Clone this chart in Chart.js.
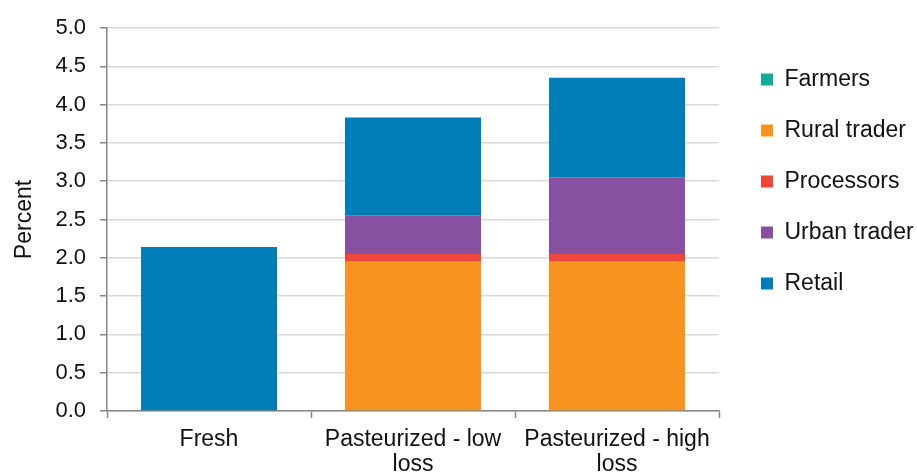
<!DOCTYPE html>
<html>
<head>
<meta charset="utf-8">
<script src="https://cdn.jsdelivr.net/npm/chart.js@4/dist/chart.umd.min.js"></script>
<style>
  html, body { margin: 0; padding: 0; background: #fff; }
  #wrap { position: relative; width: 917px; height: 475px; }
</style>
</head>
<body>
<div id="wrap"><canvas id="lossChart"></canvas></div>
<script>
/* Stacked loss shares by value-chain stage, percent. */
var categories = [["Fresh"], ["Pasteurized - low", "loss"], ["Pasteurized - high", "loss"]];
var farmers = [0, 0, 0];
var ruralTrader = [0, 1.95, 1.95];
var processors = [0, 0.1, 0.1];
var urbanTrader = [0, 0.5, 1.0];
var retail = [2.14, 1.28, 1.3];
var yTicks = [0, 0.5, 1, 1.5, 2, 2.5, 3, 3.5, 4, 4.5, 5];

var FONT = "'Liberation Sans', Arial, sans-serif";
var INK = "#111111";
var AXIS = "#868686";

function series(label, data, color) {
  return {
    label: label,
    data: data,
    backgroundColor: color,
    borderWidth: 0,
    barPercentage: 0.667,
    categoryPercentage: 1,
  };
}

window.addEventListener("DOMContentLoaded", function () {
  var canvas = document.getElementById("lossChart");
  if (typeof Chart === "undefined") return;

  new Chart(canvas, {
    type: "bar",
    data: {
      labels: categories,
      datasets: [
        series("Farmers", farmers, "#13aa97"),
        series("Rural trader", ruralTrader, "#f7941f"),
        series("Processors", processors, "#ef463a"),
        series("Urban trader", urbanTrader, "#8751a1"),
        series("Retail", retail, "#007cb7"),
      ],
    },
    options: {
      responsive: true,
      maintainAspectRatio: false,
      animation: false,
      layout: { padding: { top: 28, right: 0, bottom: 0, left: 0 } },
      plugins: {
        tooltip: { enabled: false },
        legend: {
          position: "right",
          align: "start",
          maxWidth: 184,
          title: { display: true, text: "", font: { size: 10, lineHeight: 1 }, padding: { top: 1, bottom: 1 } },
          labels: {
            boxWidth: 12,
            boxHeight: 12,
            padding: 28,
            color: INK,
            font: { family: FONT, size: 23 },
          },
        },
      },
      scales: {
        x: {
          stacked: true,
          offset: true,
          afterFit: function (s) { s.height = 64; },
          border: { color: AXIS, width: 1.5 },
          grid: {
            offset: true,
            drawOnChartArea: false,
            drawTicks: true,
            tickLength: 7,
            tickColor: AXIS,
            tickWidth: 1.5,
          },
          ticks: {
            color: INK,
            padding: 9,
            maxRotation: 0,
            autoSkip: false,
            font: { family: FONT, size: 23, lineHeight: 1.09 },
          },
        },
        y: {
          stacked: true,
          min: 0,
          max: 5,
          afterFit: function (s) { s.width = 107; },
          afterBuildTicks: function (s) {
            s.ticks = yTicks.map(function (v) { return { value: v }; });
          },
          border: { color: AXIS, width: 1.5 },
          grid: {
            color: "#d9d9d9",
            lineWidth: 1.5,
            tickLength: 7,
            tickColor: AXIS,
            tickWidth: 1.5,
          },
          ticks: {
            color: INK,
            padding: 14,
            font: { family: FONT, size: 22 },
            callback: function (v) { return Number(v).toFixed(1); },
          },
          title: {
            display: true,
            text: "Percent",
            color: INK,
            padding: { top: 11, bottom: 0 },
            font: { family: FONT, size: 23 },
          },
        },
        // spacer between plot area and legend
        gap: {
          type: "linear",
          position: "right",
          display: true,
          afterFit: function (s) { s.width = 14; },
          border: { display: false },
          grid: { display: false },
          ticks: { display: false },
        },
      },
    },
  });
});
</script>
</body>
</html>
